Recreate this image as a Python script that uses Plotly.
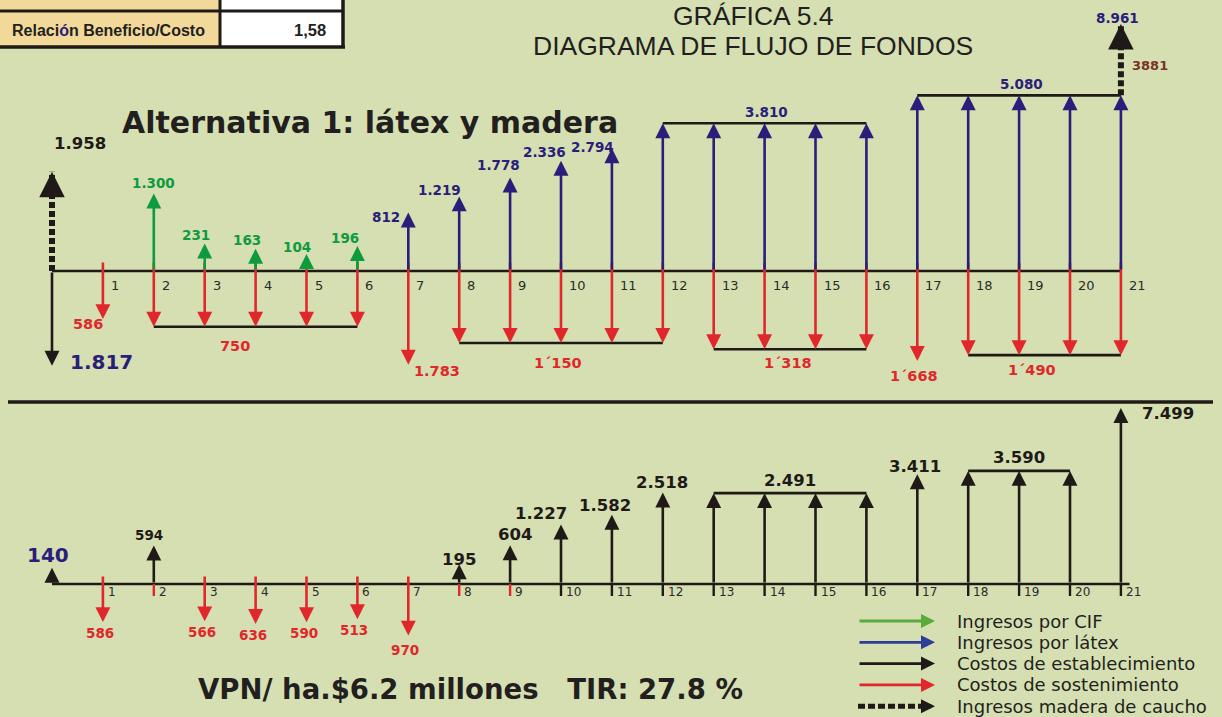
import numpy as np
import plotly.graph_objects as go

W, H = 1222, 717

# ---------------- data ----------------
periods = list(range(22))

# Alternativa 1 (upper diagram) - gross flows per year
cif_periods = [2, 3, 4, 5, 6]
cif_values = [1300, 231, 163, 104, 196]

latex_periods = list(range(7, 22))
latex_values = [812, 1219, 1778, 2336, 2794,
                3810, 3810, 3810, 3810, 3810,
                5080, 5080, 5080, 5080, 5080]

sost_periods = list(range(1, 22))
sost_values = [586, 750, 750, 750, 750, 750, 1783,
               1150, 1150, 1150, 1150, 1150,
               1318, 1318, 1318, 1318, 1668,
               1490, 1490, 1490, 1490]

estab_periods = [0]
estab_values = [1817]

madera_periods = [0, 21]
madera_values = [1958, 3881]

# Net flows (lower diagram)
net_periods = list(range(22))
net_values = [140, -586, 594, -566, -636, -590, -513, -970, 195, 604,
              1227, 1582, 2518, 2491, 2491, 2491, 2491, 3411, 3590, 3590, 3590, 7499]

legend_labels = ["Ingresos por CIF", "Ingresos por látex", "Costos de establecimiento",
                 "Costos de sostenimiento", "Ingresos madera de caucho"]
title_lines = ["GRÁFICA 5.4", "DIAGRAMA DE FLUJO DE FONDOS"]
subtitle = "Alternativa 1: látex y madera"
bc_label = "Relaci<span style='color:#2A1E7B'>ó</span>n Beneficio/Costo"
bc_value = "1,58"
vpn_text = "VPN/ ha.$6.2 millones\u00a0\u00a0\u00a0TIR: 27.8 %"

# ---------------- style ----------------
BG = "#D5DFB1"
GREEN = "#0F9A3E"
NAVY = "#2A1E7B"
RED = "#E0282C"
BLACK = "#1F1A17"
BROWN = "#7A3426"
LG_GREEN = "#5AAA3C"
LG_BLUE = "#2E3D95"
NUM_FONT = "DejaVu Sans"
TXT_FONT = "Liberation Sans"

POW = 0.6                      # display compression of arrow lengths (schematic diagram)
X_PER, X0PX = 50.9, 52
K_TOP, AX_TOP = 1.05, 271
K_BOT, AX_BOT = 0.8326, 584
HEAD = 1.15


def t(v):
    return float(np.sign(v) * abs(v) ** POW)


def fmt(v, sep="."):
    return f"{abs(int(v)):,}".replace(",", sep)


def runs(ps, vs):
    out = []
    for p, v in zip(ps, vs):
        if out and out[-1][2] == v and out[-1][1] == p - 1:
            out[-1][1] = p
        else:
            out.append([p, p, v])
    return out


anns, shapes = [], []


def arrow(x, tip, tail, yref, color, w=2.6, size=HEAD):
    anns.append(dict(x=x, y=tip, ax=x, ay=tail, xref="x", yref=yref, axref="x", ayref=yref,
                     text="", showarrow=True, arrowhead=2, arrowsize=size, arrowwidth=w,
                     arrowcolor=color, standoff=0, startstandoff=0))


def label(x, y, s, yref, color, size, dx=0, dy=0, bold=True, family=NUM_FONT,
          xanchor="center", yanchor="middle"):
    xr = "paper" if yref == "paper" else "x"
    anns.append(dict(x=x, y=y, xref=xr, yref=yref, text=s, showarrow=False, xshift=dx, yshift=dy,
                     xanchor=xanchor, yanchor=yanchor,
                     font=dict(family=family, size=size, color=color,
                               weight="bold" if bold else "normal")))


def hline(x0, x1, y, yref, color=BLACK, w=2.6):
    shapes.append(dict(type="line", xref="x", yref=yref, x0=x0, x1=x1, y0=y, y1=y,
                       line=dict(color=color, width=w)))


def dotted(x, y0, y1, yref):
    shapes.append(dict(type="line", xref="x", yref=yref, x0=x, x1=x, y0=y0, y1=y1,
                       line=dict(color=BLACK, width=6, dash="6px,3px")))
    anns.append(dict(x=x, y=y1, xref="x", yref=yref, ax=0, ay=16, text="", showarrow=True,
                     arrowhead=2, arrowsize=0.85, arrowwidth=6, arrowcolor=BLACK,
                     standoff=0, startstandoff=0))


def P(px, py):
    return px / W, 1 - py / H


# ---------------- upper diagram ----------------
hline(periods[0], periods[-1], 0, "y")
lift_top = 10 / K_TOP
for p, v in zip(sost_periods, sost_values):
    arrow(p, t(-v), lift_top, "y", RED)
for p, v in zip(estab_periods, estab_values):
    arrow(p, t(-v), 0, "y", BLACK)
for p, v in zip(cif_periods, cif_values):
    arrow(p, t(v), 0, "y", GREEN)
for p, v in zip(latex_periods, latex_values):
    arrow(p, t(v), 0, "y", NAVY)

income = {}
for p, v in zip(cif_periods + latex_periods, cif_values + latex_values):
    income[p] = income.get(p, 0) + v
for p, v in zip(madera_periods, madera_values):
    base = income.get(p, 0)
    dotted(p, t(base), t(base + v), "y")

# tick numbers
for p in periods[1:]:
    label(p, 0, str(p), "y", "#2B2B2B", 13, dx=6, dy=-14, bold=False, xanchor="left")

# labels for positive flows (offsets in px)
cif_off = {2: (0, 10), 3: (-9, 9), 4: (-9, 9), 5: (-10, 7), 6: (-12, 8)}
for p, v in zip(cif_periods, cif_values):
    dx, dy = cif_off.get(p, (-8, 8))
    label(p, t(v), fmt(v), "y", GREEN, 13.5, dx, dy)

lat_off = {7: (-22, -4), 8: (-20, 6), 9: (-12, 12), 10: (-17, 9), 11: (-19, 1)}
for a, b, v in runs(latex_periods, latex_values):
    if a == b:
        dx, dy = lat_off.get(a, (-15, 8))
        label(a, t(v), fmt(v), "y", NAVY, 13.5, dx, dy)
    else:
        hline(a, b, t(v), "y")
        label((a + b) / 2, t(v), fmt(v), "y", NAVY, 13.5, 2, 11)

# madera labels
label(madera_periods[0], t(madera_values[0]), fmt(madera_values[0]), "y", BLACK, 16.5, 28, 28)
p21 = madera_periods[1]
tot = income.get(p21, 0) + madera_values[1]
label(p21, t(tot), fmt(tot), "y", NAVY, 13.5, -3, 6)
label(p21, t(income.get(p21, 0)), str(madera_values[1]), "y", BROWN, 13, 29, 30)

# establishment label
label(estab_periods[0], t(-estab_values[0]), fmt(estab_values[0]), "y", NAVY, 20, 49, 4)

# sostenimiento labels
sost_single_off = {1: (-15, -5), 7: (29, -6), 17: (-3, -15)}
sost_sep = {17: "\u00b4"}
sost_group_off = {2: (-21, -19), 8: (-3, -20), 13: (-2, -14), 18: (-13, -15)}
for a, b, v in runs(sost_periods, sost_values):
    if a == b:
        dx, dy = sost_single_off.get(a, (0, -12))
        label(a, t(-v), fmt(v, sost_sep.get(a, ".")), "y", RED, 14.5, dx, dy)
    else:
        hline(a, b, t(-v), "y")
        dx, dy = sost_group_off.get(a, (0, -16))
        label((a + b) / 2, t(-v), fmt(v, "\u00b4"), "y", RED, 14.5, dx, dy)

# ---------------- lower diagram ----------------
hline(net_periods[0], net_periods[-1] + 0.17, 0, "y2")
lift_bot = 9 / K_BOT
red_ticks = [2, 8, 9]
for p, v in zip(net_periods, net_values):
    if v < 0:
        arrow(p, t(v), lift_bot, "y2", RED)
    else:
        if p > 0:
            shapes.append(dict(type="line", xref="x", yref="y2", ysizemode="pixel", yanchor=0,
                               x0=p, x1=p, y0=-12, y1=0,
                               line=dict(color=RED if p in red_ticks else BLACK, width=2.4)))
        arrow(p, t(v), 0, "y2", BLACK)

for p in net_periods[1:]:
    label(p, 0, str(p), "y2", "#2B2B2B", 12, dx=3, dy=-8, bold=False, xanchor="left")

net_pos_off = {0: (-4, 13), 2: (-5, 11), 8: (0, 5), 9: (5, 11), 10: (-20, 11),
               11: (-7, 9), 12: (-1, 10), 17: (-2, 8), 21: (47, -5)}
for a, b, v in runs(net_periods, net_values):
    if v > 0:
        if a == b:
            dx, dy = net_pos_off.get(a, (-3, 10))
            if a == 0:
                label(a, t(v), fmt(v), "y2", NAVY, 20, dx, dy)
            elif v < 1000 and a < 5:
                label(a, t(v), fmt(v), "y2", BLACK, 13.5, dx, dy)
            else:
                label(a, t(v), fmt(v), "y2", BLACK, 16.5, dx, dy)
        else:
            hline(a, b, t(v), "y2")
            label((a + b) / 2, t(v), fmt(v), "y2", BLACK, 16.5, 0, 13)
    else:
        dy = -14 if abs(v) > 900 else -11
        label(a, t(v), fmt(v), "y2", RED, 13.5, -3, dy)

# ---------------- decorations ----------------
# separator
x0, y0 = P(8, 402)
x1, _ = P(1213, 402)
shapes.append(dict(type="line", xref="paper", yref="paper", x0=x0, x1=x1, y0=y0, y1=y0,
                   line=dict(color=BLACK, width=3.5)))

# table (top-left)
txm, ty_mid = P(220, 11)
txr, ty_bot = P(343, 47)
shapes.append(dict(type="rect", xref="paper", yref="paper", x0=-0.01, x1=txm, y0=ty_bot, y1=1.01,
                   fillcolor="#F2D99A", line=dict(width=0)))
shapes.append(dict(type="rect", xref="paper", yref="paper", x0=txm, x1=txr, y0=ty_bot, y1=1.01,
                   fillcolor="#FFFFFF", line=dict(width=0)))
for (a, b, c, d, w) in [(0, 11, 343, 11, 3), (0, 47, 345, 47, 3.5), (220, -2, 220, 47, 3),
                        (343, -2, 343, 48, 3.5)]:
    xa, ya = P(a, b)
    xb, yb = P(c, d)
    shapes.append(dict(type="line", xref="paper", yref="paper", x0=xa, x1=xb, y0=ya, y1=yb,
                       line=dict(color=BLACK, width=w)))
xl, yl = P(207, 30)
label(xl, yl, bc_label, "paper", "#231F20", 16, family=TXT_FONT, xanchor="right")
xv, yv = P(328, 30)
label(xv, yv, bc_value, "paper", "#231F20", 16.5, family=TXT_FONT, xanchor="right")

# titles
xt, yt = P(753, 16)
label(xt, yt, title_lines[0], "paper", "#231F20", 26.5, bold=False, family=TXT_FONT)
xt, yt = P(753, 46)
label(xt, yt, title_lines[1], "paper", "#231F20", 26.5, bold=False, family=TXT_FONT)
xs, ys = P(370, 122)
label(xs, ys, subtitle, "paper", "#231F20", 30)
xv, yv = P(470, 689)
label(xv, yv, vpn_text, "paper", "#231F20", 27.5)

# legend
leg_colors = [LG_GREEN, LG_BLUE, BLACK, RED, BLACK]
for i, (lab, col) in enumerate(zip(legend_labels, leg_colors)):
    ypx = 621 + i * 21.3
    xe, ye = P(935, ypx)
    if i < 4:
        anns.append(dict(x=xe, y=ye, xref="paper", yref="paper", ax=-77, ay=0, text="",
                         showarrow=True, arrowhead=2, arrowsize=1.0, arrowwidth=2.8,
                         arrowcolor=col, standoff=0, startstandoff=0))
    else:
        xa, _ = P(858, ypx)
        xb, _ = P(926, ypx)
        shapes.append(dict(type="line", xref="paper", yref="paper", x0=xa, x1=xb, y0=ye, y1=ye,
                           line=dict(color=BLACK, width=5, dash="7px,3px")))
        anns.append(dict(x=xe, y=ye, xref="paper", yref="paper", ax=-12, ay=0, text="",
                         showarrow=True, arrowhead=2, arrowsize=0.7, arrowwidth=4,
                         arrowcolor=BLACK, standoff=0, startstandoff=0))
    xt, _ = P(955, ypx)
    label(xt, ye, lab, "paper", "#231F20", 18, bold=False, family=NUM_FONT, xanchor="left")

# ---------------- figure ----------------
fig = go.Figure()
fig.add_trace(go.Scatter(x=[periods[0]], y=[0], mode="markers", marker=dict(opacity=0),
                         hoverinfo="skip", showlegend=False))
fig.add_trace(go.Scatter(x=[net_periods[0]], y=[0], yaxis="y2", mode="markers",
                         marker=dict(opacity=0), hoverinfo="skip", showlegend=False))

fig.update_layout(
    width=W, height=H, autosize=False,
    margin=dict(l=0, r=0, t=0, b=0),
    paper_bgcolor=BG, plot_bgcolor=BG,
    showlegend=False,
    xaxis=dict(range=[-X0PX / X_PER, (W - X0PX) / X_PER], visible=False, domain=[0, 1]),
    yaxis=dict(range=[-(H - AX_TOP) / K_TOP, AX_TOP / K_TOP], visible=False, domain=[0, 1]),
    yaxis2=dict(range=[-(H - AX_BOT) / K_BOT, AX_BOT / K_BOT], visible=False,
                overlaying="y", anchor="x"),
    annotations=anns,
    shapes=shapes,
)

fig.write_html(
    "out.html",
    config={"displayModeBar": False, "staticPlot": True},
    post_script="document.body.style.margin='0px';document.body.style.padding='0px';"
                "document.body.style.overflow='hidden';"
                "document.body.style.background='" + BG + "';",
)
